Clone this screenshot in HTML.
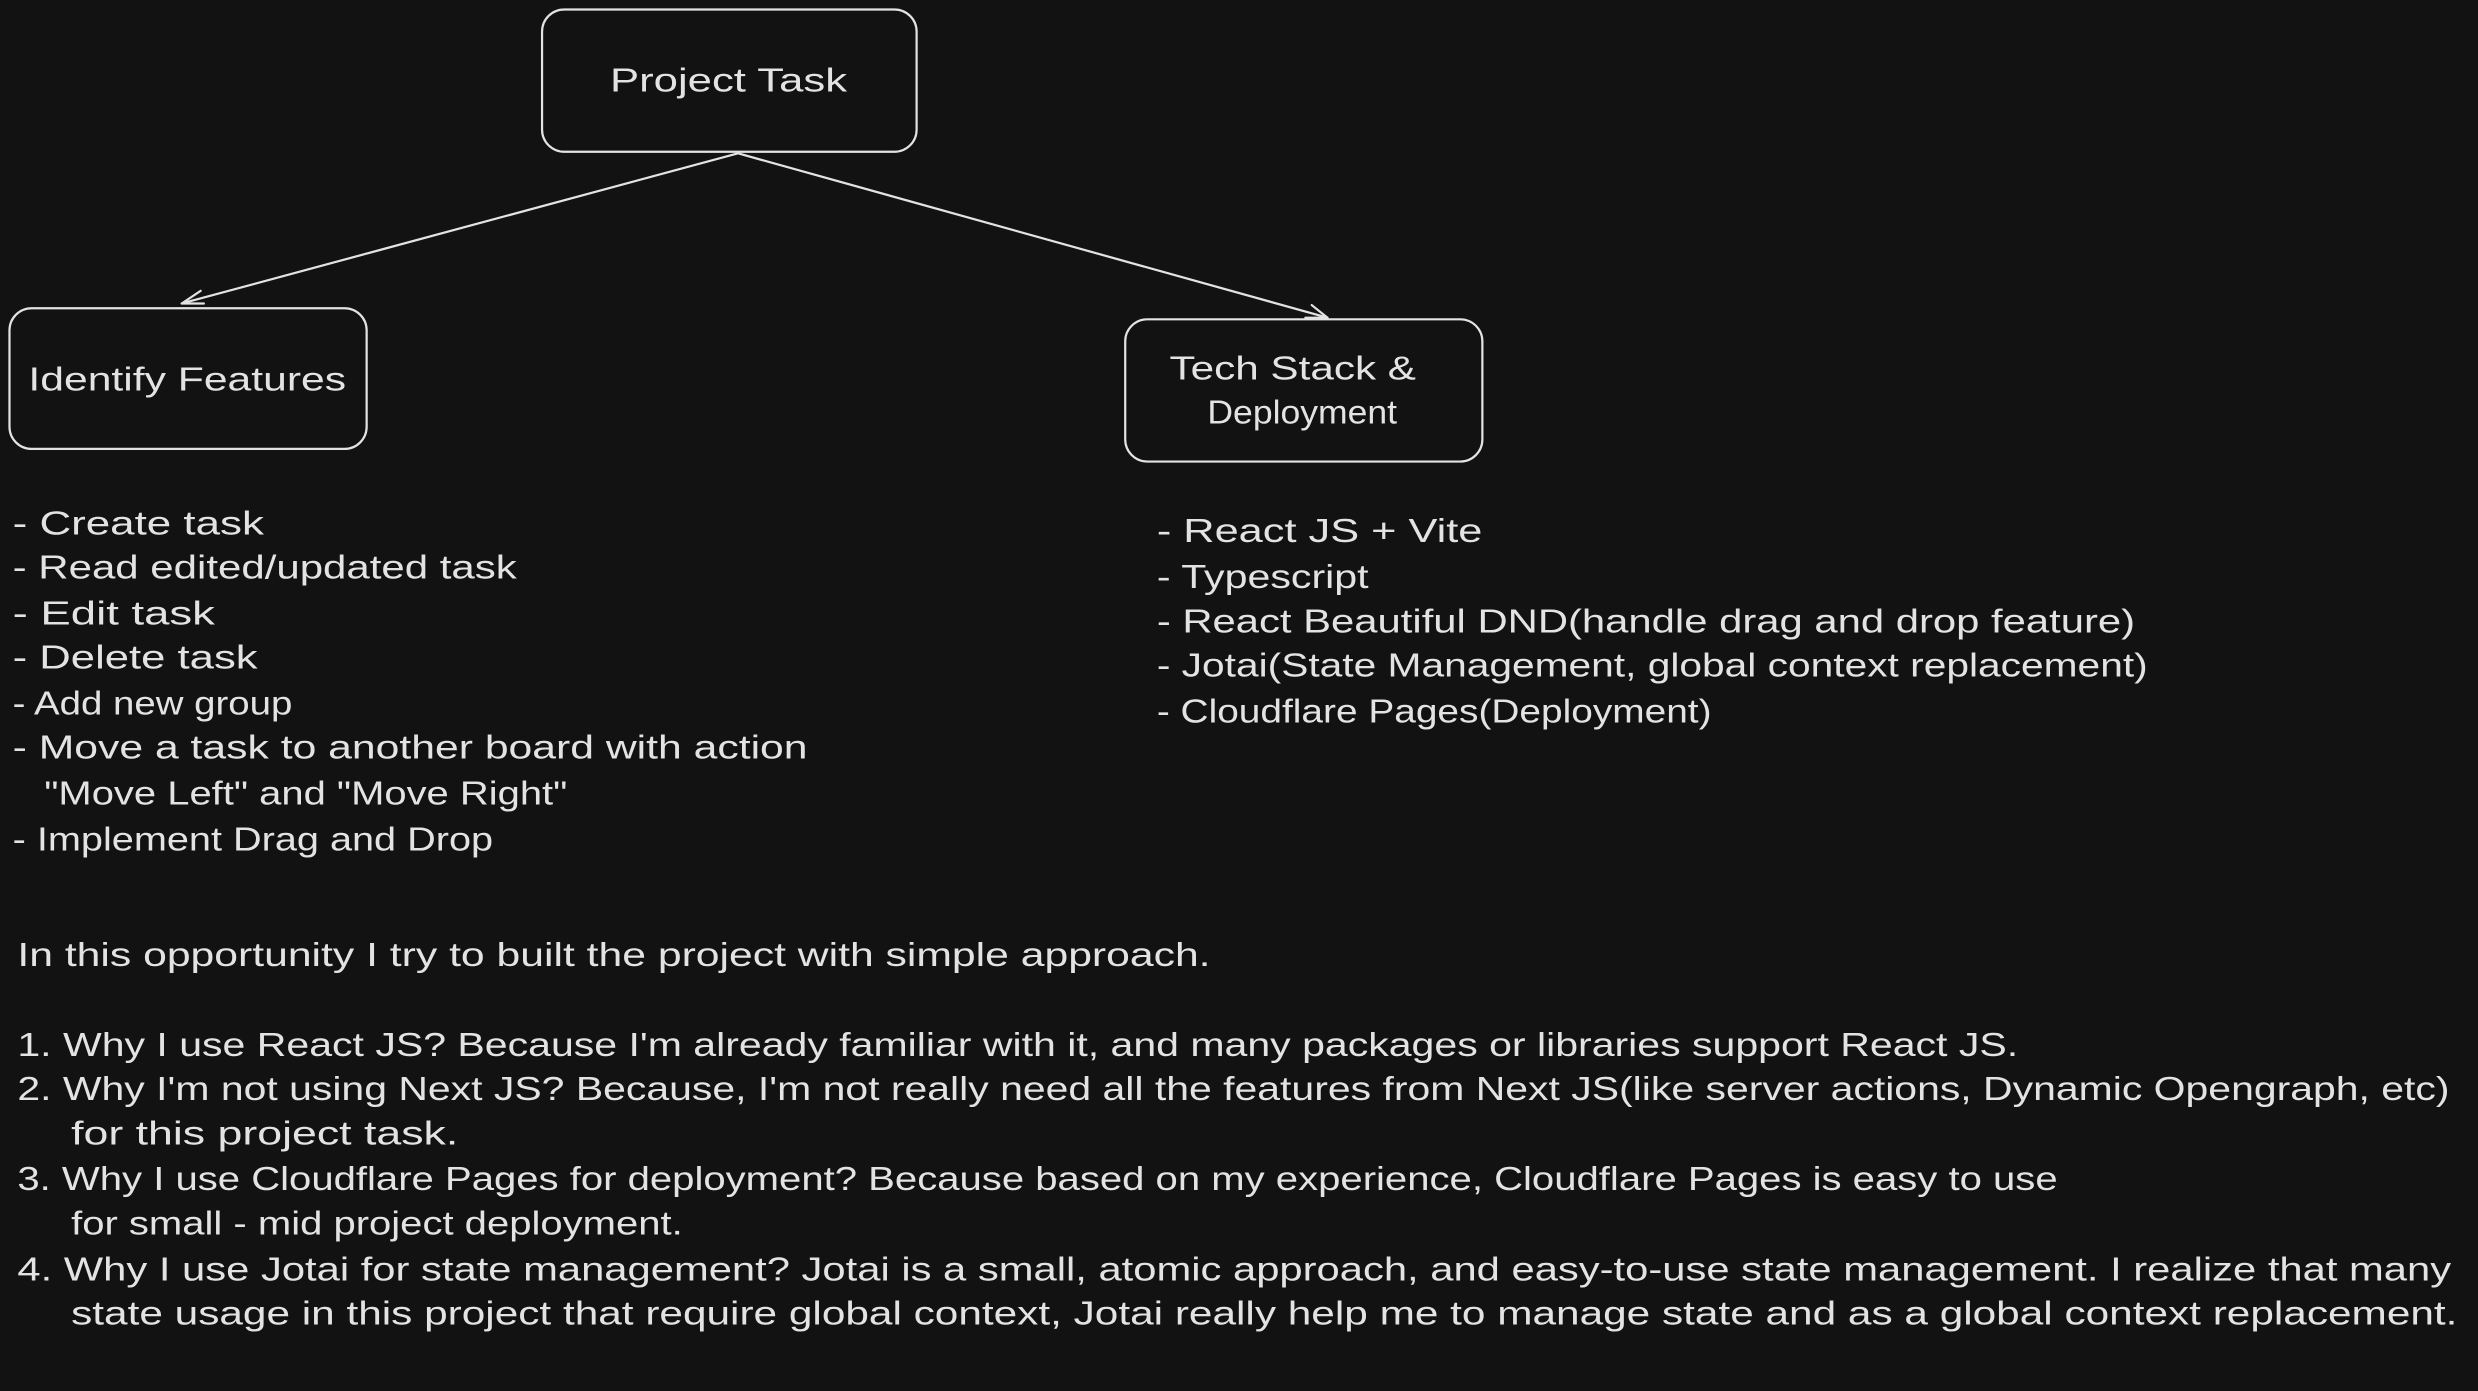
<!DOCTYPE html>
<html><head><meta charset="utf-8"><style>
html,body{margin:0;padding:0;background:#121212;}
svg{display:block}
text{font-family:"Liberation Sans",sans-serif;fill:#e3e3e3;font-size:21px;}
</style></head><body>
<svg width="2478" height="1391" viewBox="0 0 1568 880" preserveAspectRatio="none" xmlns="http://www.w3.org/2000/svg">
<rect width="1568" height="880" fill="#121212"/>
<g fill="none" stroke="#e3e3e3" stroke-width="1.4" stroke-linecap="round">
<rect x="343" y="6" width="237" height="90" rx="14"/>
<rect x="6" y="195" width="226" height="89" rx="14"/>
<rect x="712" y="202" width="226" height="90" rx="14"/>
<path d="M467 97 L115 192"/>
<path d="M115 192 L127 184 M115 192 L129 192"/>
<path d="M467 97 L840 201"/>
<path d="M840 201 L826 201 M840 201 L830 193"/>
</g>
<text x="386" y="58" textLength="150" lengthAdjust="spacingAndGlyphs">Project Task</text>
<text x="18" y="247" textLength="201" lengthAdjust="spacingAndGlyphs">Identify Features</text>
<text x="740" y="240" textLength="156" lengthAdjust="spacingAndGlyphs">Tech Stack &amp;</text>
<text x="764" y="268" textLength="120" lengthAdjust="spacingAndGlyphs">Deployment</text>
<g lengthAdjust="spacingAndGlyphs">
<text x="8" y="338" textLength="159" lengthAdjust="spacingAndGlyphs">- Create task</text>
<text x="8" y="366" textLength="319" lengthAdjust="spacingAndGlyphs">- Read edited/updated task</text>
<text x="8" y="395" textLength="128" lengthAdjust="spacingAndGlyphs">- Edit task</text>
<text x="8" y="423" textLength="155" lengthAdjust="spacingAndGlyphs">- Delete task</text>
<text x="8" y="452" textLength="177" lengthAdjust="spacingAndGlyphs">- Add new group</text>
<text x="8" y="480" textLength="503" lengthAdjust="spacingAndGlyphs">- Move a task to another board with action</text>
<text x="28" y="509" textLength="331" lengthAdjust="spacingAndGlyphs">"Move Left" and "Move Right"</text>
<text x="8" y="538" textLength="304" lengthAdjust="spacingAndGlyphs">- Implement Drag and Drop</text>
<text x="732" y="343" textLength="206" lengthAdjust="spacingAndGlyphs">- React JS + Vite</text>
<text x="732" y="372" textLength="134" lengthAdjust="spacingAndGlyphs">- Typescript</text>
<text x="732" y="400" textLength="619" lengthAdjust="spacingAndGlyphs">- React Beautiful DND(handle drag and drop feature)</text>
<text x="732" y="428" textLength="627" lengthAdjust="spacingAndGlyphs">- Jotai(State Management, global context replacement)</text>
<text x="732" y="457" textLength="351" lengthAdjust="spacingAndGlyphs">- Cloudflare Pages(Deployment)</text>
<text x="11" y="611" textLength="755" lengthAdjust="spacingAndGlyphs">In this opportunity I try to built the project with simple approach.</text>
<text x="11" y="668" textLength="1266" lengthAdjust="spacingAndGlyphs">1. Why I use React JS? Because I'm already familiar with it, and many packages or libraries support React JS.</text>
<text x="11" y="696" textLength="1539" lengthAdjust="spacingAndGlyphs">2. Why I'm not using Next JS? Because, I'm not really need all the features from Next JS(like server actions, Dynamic Opengraph, etc)</text>
<text x="45" y="724" textLength="245" lengthAdjust="spacingAndGlyphs">for this project task.</text>
<text x="11" y="753" textLength="1291" lengthAdjust="spacingAndGlyphs">3. Why I use Cloudflare Pages for deployment? Because based on my experience, Cloudflare Pages is easy to use</text>
<text x="45" y="781" textLength="387" lengthAdjust="spacingAndGlyphs">for small - mid project deployment.</text>
<text x="11" y="810" textLength="1540" lengthAdjust="spacingAndGlyphs">4. Why I use Jotai for state management? Jotai is a small, atomic approach, and easy-to-use state management. I realize that many</text>
<text x="45" y="838" textLength="1510" lengthAdjust="spacingAndGlyphs">state usage in this project that require global context, Jotai really help me to manage state and as a global context replacement.</text>
</g>
</svg>
</body></html>
